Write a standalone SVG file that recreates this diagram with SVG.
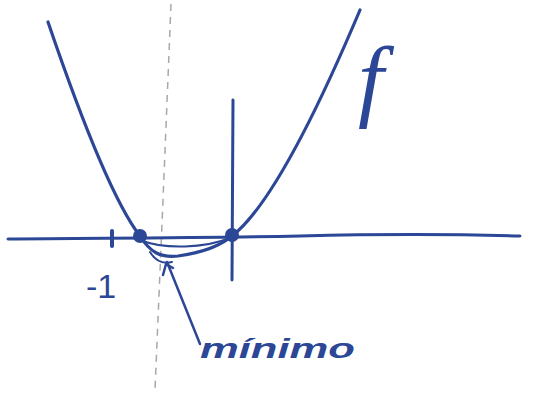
<svg xmlns="http://www.w3.org/2000/svg" width="534" height="394" viewBox="0 0 534 394">
<style>
.ink{fill:none;stroke:#2b4796;stroke-linecap:round;stroke-linejoin:round}
.txt{fill:#2b4796}
</style>
<rect width="534" height="394" fill="#fff"/>
<g id="guide">
<path d="M171,4 L163,200 L155,390" fill="none" stroke="#a8a8a8" stroke-width="1.5" stroke-dasharray="7,6"/>
</g>
<g id="axes">
<path class="ink" stroke-width="3" d="M8,239 C100,238 200,238 300,236 C380,234 450,234 520,236"/>
<path class="ink" stroke-width="3" d="M233,100 L232,280"/>
<path class="ink" stroke-width="4" d="M112,231 L112,246"/>
</g>
<g id="curve">
<path class="ink" stroke-width="3.2" d="M48,22 C78,110 112,200 140,236 C150,252 160,258 178,256 C200,253 220,246 232,236 C272,205 322,100 360,10"/>
<path class="ink" stroke-width="2" d="M140,240 C165,250 205,248 230,238"/>
<path class="ink" stroke-width="2" d="M150,252 C156,262 164,264 172,262"/>
</g>
<g id="points">
<circle cx="140" cy="236" r="7" class="txt"/>
<circle cx="232" cy="235" r="7" class="txt"/>
</g>
<g id="pointer">
<path class="ink" stroke-width="2.5" d="M167,262 L200,344"/>
<path class="ink" stroke-width="2.5" d="M163,275 L166,264 L173,268"/>
</g>
<g id="labels">
<text x="86" y="298" class="txt" font-family="Liberation Sans, sans-serif" font-size="34">-1</text>
<text x="200" y="358" class="txt" font-family="Liberation Sans, sans-serif" font-size="28" font-style="italic" font-weight="bold" textLength="155" lengthAdjust="spacingAndGlyphs">mínimo</text>
<text x="358" y="110" class="txt" font-family="Liberation Serif, serif" font-size="92" font-style="italic">f</text>
</g>
</svg>
